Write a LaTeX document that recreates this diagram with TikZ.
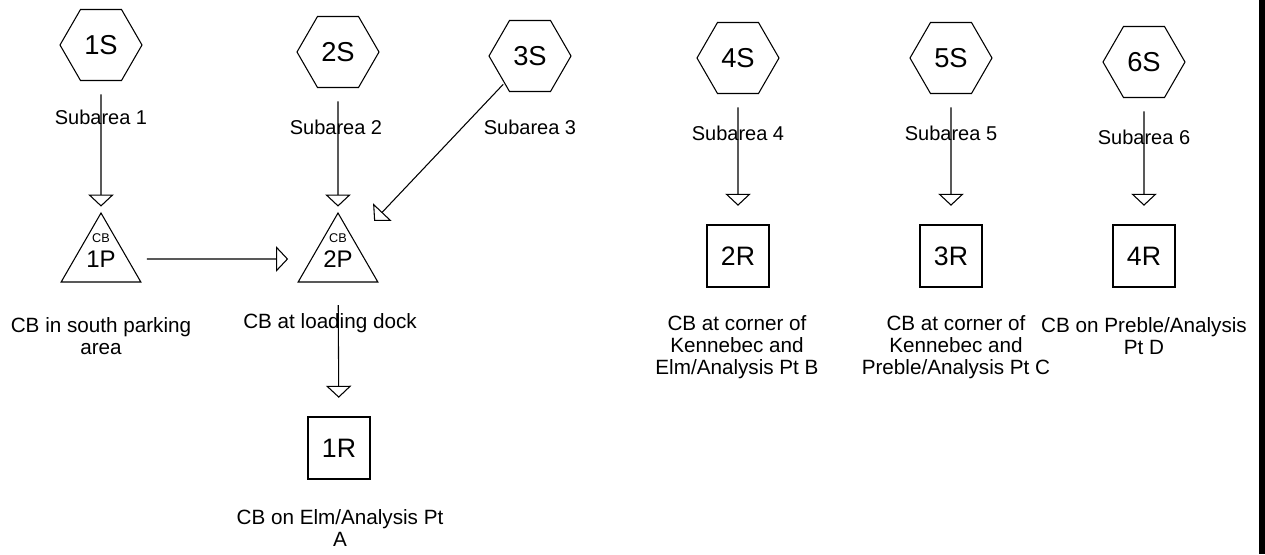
\documentclass[tikz,border=0pt]{standalone}
\usepackage{fontspec}
\setmainfont{Liberation Sans}
\usetikzlibrary{shapes.geometric,arrows.meta}

\tikzset{
  hexa/.style={draw, regular polygon, regular polygon sides=6, minimum size=61.5pt,
    inner sep=0pt, font=\fontsize{20.5}{22}\selectfont},
  tri/.style={draw, regular polygon, regular polygon sides=3, minimum size=69pt,
    inner sep=0pt, font=\fontsize{18}{20}\selectfont},
  outlet/.style={draw, minimum size=46.5pt, inner sep=0pt, font=\fontsize{20}{22}\selectfont},
  txt/.style={align=center, inner sep=0pt, font=\fontsize{15}{16.5}\selectfont},
  desc/.style={txt, font=\fontsize{15.5}{16.5}\selectfont},
  small/.style={inner sep=0pt, font=\fontsize{9.5}{10}\selectfont},
  flow/.style={-{Triangle[open,length=9pt,width=19pt]}},
}

\begin{document}
\begin{tikzpicture}[x=0.75pt,y=-0.75pt,line width=0.8pt]
\useasboundingbox (0,0) rectangle (1265,554);

% subareas
\foreach \n/\x/\y in {1/101/45,2/338/52,3/530/56,4/738/58,5/951/58,6/1144/62}
  \node[hexa] (s\n) at (\x,\y) {\n S};
\foreach \n/\x/\y in {1/101/117,2/336/127,3/530/127,4/738/133,5/951/133,6/1144/137}
  \node[txt] (l\n) at (\x,\y) {Subarea \n};

% ponds
\node[tri] (p1) at (101,259) {1P};
\node[tri] (p2) at (338,259) {2P};
\node[small] (c1) at ([yshift=16pt]p1.center) {CB};
\node[small] (c2) at ([yshift=16pt]p2.center) {CB};

% reaches
\node[outlet] (r1) at (339,448) {1R};
\node[outlet] (r2) at (738,256) {2R};
\node[outlet] (r3) at (951,256) {3R};
\node[outlet] (r4) at (1144,256) {4R};

% descriptions
\node[desc] (d1) at (101,336) {CB in south parking\\area};
\node[desc] (d2) at (330,323) {CB at loading dock};
\node[desc] (d3) at (340,528) {CB on Elm/Analysis Pt\\A};
\node[desc] (d4) at (737,347) {CB at corner of\\Kennebec and\\Elm/Analysis Pt B};
\node[desc] (d5) at (956,347) {CB at corner of\\Kennebec and\\Preble/Analysis Pt C};
\node[desc] (d6) at (1144,336) {CB on Preble/Analysis\\Pt D};

% routing
\foreach \a/\b in {s1/p1,s2/p2}
  \draw[flow, shorten <=10pt, shorten >=4pt] (\a) -- (\b);
\draw[flow, shorten <=1pt, shorten >=21pt] (s3) -- (p2);
\draw[flow, shorten <=14pt, shorten >=17pt] (p1) -- (p2);
\draw[flow, shorten <=17pt, shorten >=14pt] (p2) -- (r1);
\foreach \a/\b in {s4/r2,s5/r3,s6/r4}
  \draw[flow, shorten <=10pt, shorten >=14pt] (\a) -- (\b);

% scan edge
\fill (1259,0) rectangle (1265,554);
\end{tikzpicture}
\end{document}
